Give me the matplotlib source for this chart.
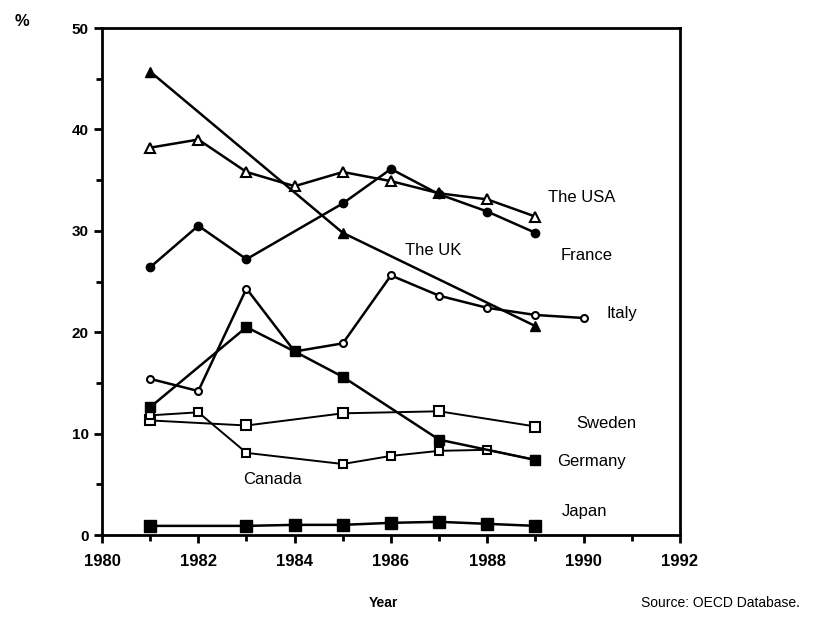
import matplotlib
matplotlib.use("Agg")
import matplotlib.pyplot as plt
from matplotlib.ticker import MultipleLocator

plt.rcParams['font.family'] = ['Liberation Sans', 'DejaVu Sans']

# --- data (%) ---
uk_years = [1981, 1985, 1989]
uk_vals = [45.7, 29.8, 20.6]

usa_years = [1981, 1982, 1983, 1984, 1985, 1986, 1987, 1988, 1989]
usa_vals = [38.2, 39.0, 35.8, 34.4, 35.8, 34.9, 33.7, 33.1, 31.4]

france_years = [1981, 1982, 1983, 1985, 1986, 1987, 1988, 1989]
france_vals = [26.4, 30.5, 27.2, 32.7, 36.1, 33.6, 31.9, 29.8]

italy_years = [1981, 1982, 1983, 1984, 1985, 1986, 1987, 1988, 1989, 1990]
italy_vals = [15.4, 14.2, 24.3, 18.1, 18.9, 25.6, 23.6, 22.4, 21.7, 21.4]

germany_years = [1981, 1983, 1984, 1985, 1987, 1989]
germany_vals = [12.6, 20.5, 18.1, 15.6, 9.4, 7.4]

sweden_years = [1981, 1983, 1985, 1987, 1989]
sweden_vals = [11.3, 10.8, 12.0, 12.2, 10.7]

canada_years = [1981, 1982, 1983, 1985, 1986, 1987, 1988, 1989]
canada_vals = [11.8, 12.1, 8.1, 7.0, 7.8, 8.3, 8.4, 7.4]

japan_years = [1981, 1983, 1984, 1985, 1986, 1987, 1988, 1989]
japan_vals = [0.9, 0.9, 1.0, 1.0, 1.2, 1.3, 1.1, 0.9]

fig = plt.figure(figsize=(8.33, 6.17), dpi=100)
ax = fig.add_axes([0.1224, 0.1329, 0.6939, 0.8217])

lw = 1.8
# open-marker series first so the filled ones sit on top where they meet
ax.plot(sweden_years, sweden_vals, color='black', lw=1.4, marker='s', ms=7, mfc='white', mew=1.5)
ax.plot(canada_years, canada_vals, color='black', lw=1.4, marker='s', ms=6, mfc='white', mew=1.5)
ax.plot(usa_years, usa_vals, color='black', lw=lw, marker='^', ms=7, mfc='white', mew=1.5)
ax.plot(italy_years, italy_vals, color='black', lw=lw, marker='o', ms=5, mfc='white', mew=1.5)
ax.plot(uk_years, uk_vals, color='black', lw=lw, marker='^', ms=7, mfc='black')
ax.plot(france_years, france_vals, color='black', lw=lw, marker='o', ms=6, mfc='black')
ax.plot(germany_years, germany_vals, color='black', lw=lw, marker='s', ms=7, mfc='black')
ax.plot(japan_years, japan_vals, color='black', lw=lw, marker='s', ms=8, mfc='black')

# series labels
fs = 12
ax.text(1989.26, 33.3, "The USA", fontsize=fs, va='center')
ax.text(1989.53, 27.6, "France", fontsize=fs, va='center')
ax.text(1986.29, 28.1, "The UK", fontsize=fs, va='center')
ax.text(1990.48, 21.8, "Italy", fontsize=fs, va='center')
ax.text(1989.84, 11.0, "Sweden", fontsize=fs, va='center')
ax.text(1989.45, 7.2, "Germany", fontsize=fs, va='center')
ax.text(1982.93, 5.5, "Canada", fontsize=fs, va='center')
ax.text(1989.55, 2.3, "Japan", fontsize=fs, va='center')

ax.set_xlim(1980, 1992)
ax.set_ylim(0, 50)
ax.xaxis.set_major_locator(MultipleLocator(2))
ax.xaxis.set_minor_locator(MultipleLocator(1))
ax.yaxis.set_major_locator(MultipleLocator(10))
ax.yaxis.set_minor_locator(MultipleLocator(5))
ax.tick_params(which='major', direction='out', length=6, width=2, labelsize=11)
ax.tick_params(which='minor', direction='out', length=4, width=2)
ax.tick_params(axis='x', pad=8, labelsize=12)
for lab in ax.get_xticklabels() + ax.get_yticklabels():
    lab.set_fontweight('bold')
for s in ax.spines.values():
    s.set_linewidth(2)

fig.text(22 / 833, 1 - 22 / 617, "%", fontsize=12, fontweight='bold', ha='center', va='center')
fig.text(383 / 833, 1 - 603 / 617, "Year", fontsize=10, fontweight='bold', ha='center', va='center')
fig.text(720 / 833, 1 - 603 / 617, "Source: OECD Database.", fontsize=10, ha='center', va='center')

fig.savefig("out.png", dpi=100)
